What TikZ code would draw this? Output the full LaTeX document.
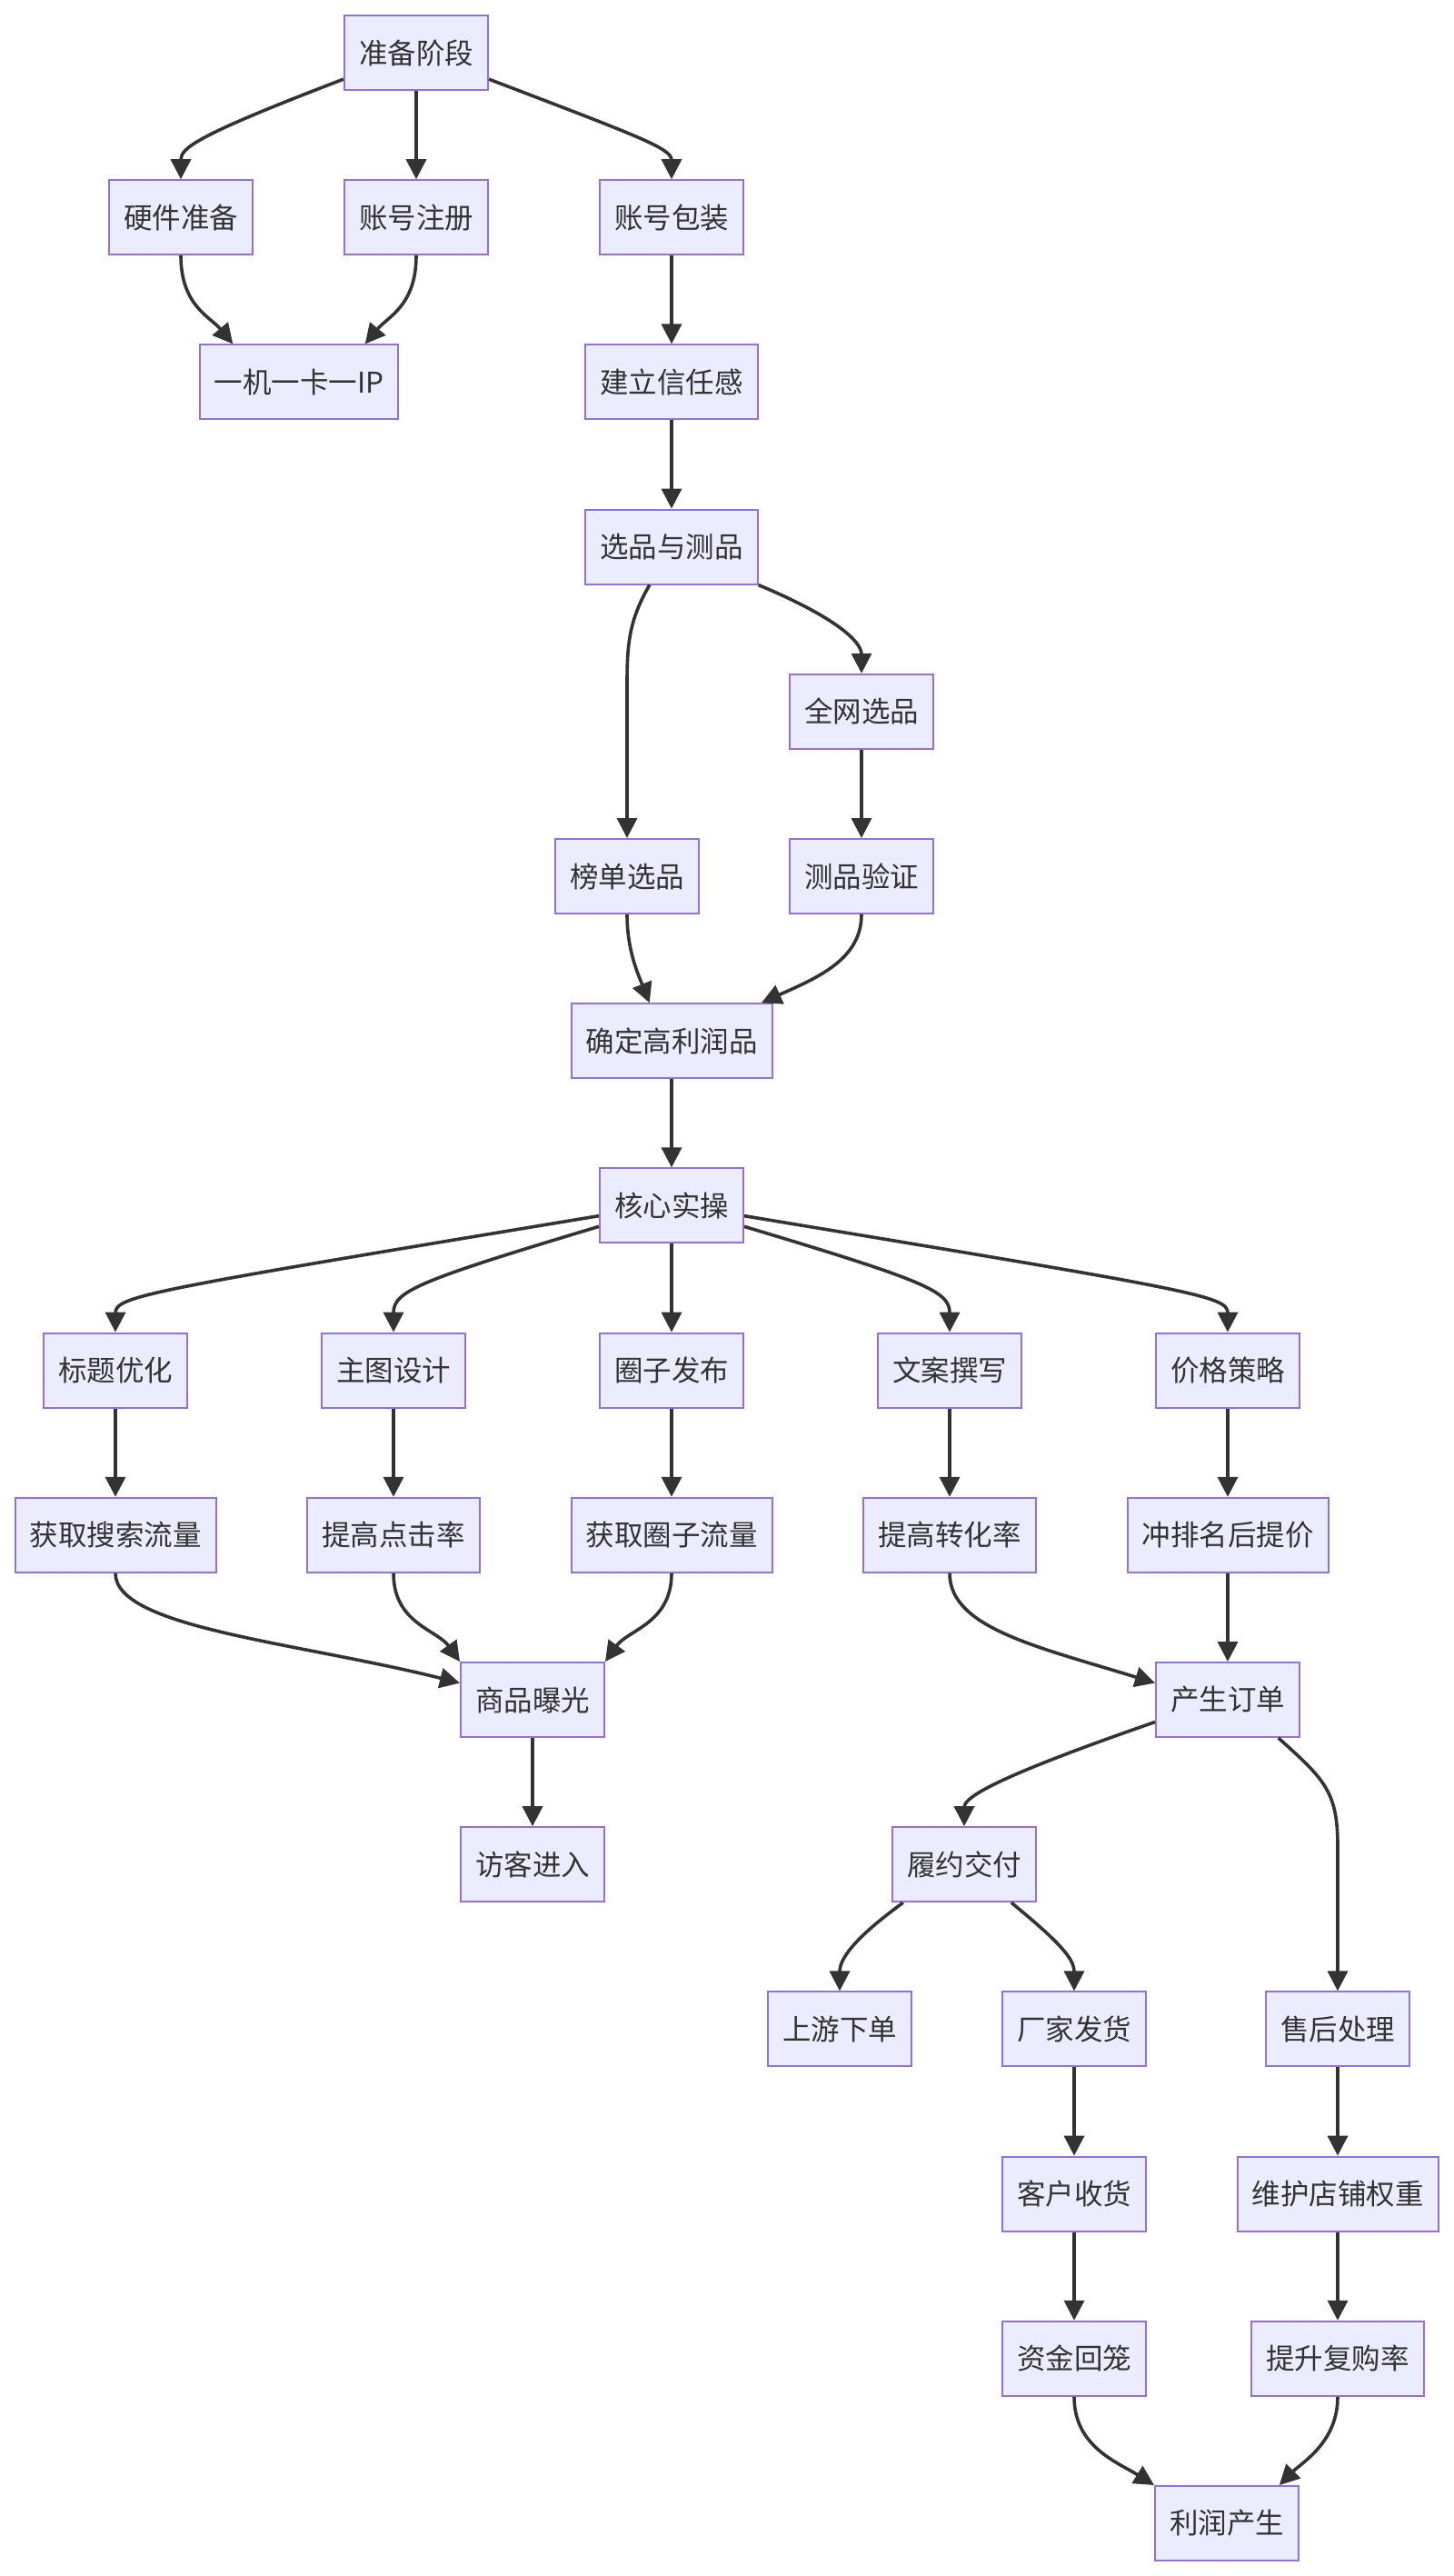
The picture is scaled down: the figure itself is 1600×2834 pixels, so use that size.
\documentclass[tikz,border=0pt]{standalone}
\usepackage{fontspec}
\newfontfamily\cjk{Noto Sans CJK SC}
\usetikzlibrary{arrows.meta,calc}
\definecolor{nodefill}{HTML}{ECECFF}
\definecolor{nodeline}{HTML}{9370DB}
\definecolor{edgecol}{HTML}{333333}
\tikzset{
  box/.style={draw=nodeline, fill=nodefill, line width=2pt, rectangle,
    inner xsep=16pt, inner ysep=0pt, minimum height=82pt, text=edgecol,
    font=\cjk\fontsize{31.5}{36}\selectfont},
  link/.style={draw=edgecol, line width=3.6pt,
    -{Triangle[length=22pt,width=22pt]}},
}
\begin{document}
\begin{tikzpicture}[x=1pt,y=-1pt]
\useasboundingbox[fill=white] (0,0) rectangle (1600,2834);
% nodes
\node[box] (zb)  at (458,58)    {准备阶段};
\node[box] (yj)  at (199,239.2) {硬件准备};
\node[box] (zc)  at (458,239.2) {账号注册};
\node[box] (zbz) at (739,239.2) {账号包装};
\node[box] (ip)  at (329,420.4) {一机一卡一IP};
\node[box] (xr)  at (739,420.4) {建立信任感};
\node[box] (xp)  at (739,601.6) {选品与测品};
\node[box] (qw)  at (948,782.8) {全网选品};
\node[box] (bd)  at (690,964)   {榜单选品};
\node[box] (cy)  at (948,964)   {测品验证};
\node[box] (qd)  at (739,1145.2) {确定高利润品};
\node[box] (hx)  at (739,1326.4) {核心实操};
\node[box] (bt)  at (127,1507.6) {标题优化};
\node[box] (zt)  at (433,1507.6) {主图设计};
\node[box] (qz)  at (739,1507.6) {圈子发布};
\node[box] (wa)  at (1045,1507.6) {文案撰写};
\node[box] (jg)  at (1351,1507.6) {价格策略};
\node[box] (hs)  at (127,1688.8) {获取搜索流量};
\node[box] (dj)  at (433,1688.8) {提高点击率};
\node[box] (hq)  at (739,1688.8) {获取圈子流量};
\node[box] (zh)  at (1045,1688.8) {提高转化率};
\node[box] (pj)  at (1351,1688.8) {冲排名后提价};
\node[box] (sp)  at (586,1870)  {商品曝光};
\node[box] (cs)  at (1351,1870) {产生订单};
\node[box] (fk)  at (586,2051.2) {访客进入};
\node[box] (ly)  at (1061,2051.2) {履约交付};
\node[box] (sy)  at (924,2232.4) {上游下单};
\node[box] (cj)  at (1182,2232.4) {厂家发货};
\node[box] (sh)  at (1472,2232.4) {售后处理};
\node[box] (kh)  at (1182,2413.6) {客户收货};
\node[box] (wh)  at (1472,2413.6) {维护店铺权重};
\node[box] (zj)  at (1182,2594.8) {资金回笼};
\node[box] (tf)  at (1472,2594.8) {提升复购率};
\node[box] (lr)  at (1350,2776)  {利润产生};
% edges
\draw[link] (zb.200) .. controls +(-165,63) and +(0,-34) .. (yj.north);
\draw[link] (zb.south) -- (zc.north);
\draw[link] (zb.340) .. controls +(165,63) and +(0,-34) .. (zbz.north);
\draw[link] (yj.south) .. controls +(0,55) and +(-25,-30) .. (ip.150);
\draw[link] (zc.south) .. controls +(0,55) and +(25,-30) .. (ip.30);
\draw[link] (zbz.south) -- (xr.north);
\draw[link] (xr.south) -- (xp.north);
\draw[link] (xp.240) .. controls +(-22,38) and +(0,-45) .. ($(bd.north)+(0,-170)$) -- (bd.north);
\draw[link] (xp.south east) .. controls +(100,42) and +(0,-30) .. (qw.north);
\draw[link] (qw.south) -- (cy.north);
\draw[link] (bd.south) .. controls +(0,40) and +(-12,-30) .. (qd.120);
\draw[link] (cy.south) .. controls +(0,50) and +(60,-27) .. (qd.23);
\draw[link] (qd.south) -- (hx.north);
\draw[link] (hx.188) .. controls +(-495,82) and +(0,-40) .. (bt.north);
\draw[link] (hx.196) .. controls +(-200,60) and +(0,-45) .. (zt.north);
\draw[link] (hx.south) -- (qz.north);
\draw[link] (hx.344) .. controls +(200,60) and +(0,-45) .. (wa.north);
\draw[link] (hx.352) .. controls +(495,82) and +(0,-40) .. (jg.north);
\draw[link] (bt.south) -- (hs.north);
\draw[link] (zt.south) -- (dj.north);
\draw[link] (qz.south) -- (hq.north);
\draw[link] (wa.south) -- (zh.north);
\draw[link] (jg.south) -- (pj.north);
\draw[link] (hs.south) .. controls +(0,60) and +(-180,-45) .. (sp.167);
\draw[link] (dj.south) .. controls +(0,55) and +(-25,-35) .. (sp.north west);
\draw[link] (hq.south) .. controls +(0,55) and +(25,-35) .. (sp.north east);
\draw[link] (zh.south) .. controls +(0,60) and +(-130,-40) .. (cs.167);
\draw[link] (pj.south) -- (cs.north);
\draw[link] (sp.south) -- (fk.north);
\draw[link] (cs.197) .. controls +(-150,52) and +(0,-35) .. (ly.north);
\draw[link] (cs.323) .. controls +(50,45) and +(0,-60) .. ($(sh.north)+(0,-160)$) -- (sh.north);
\draw[link] (ly.212) .. controls +(-55,40) and +(0,-35) .. (sy.north);
\draw[link] (ly.321) .. controls +(55,45) and +(0,-35) .. (cj.north);
\draw[link] (sh.south) -- (wh.north);
\draw[link] (cj.south) -- (kh.north);
\draw[link] (kh.south) -- (zj.north);
\draw[link] (wh.south) -- (tf.north);
\draw[link] (zj.south) .. controls +(0,55) and +(-40,-25) .. (lr.north west);
\draw[link] (tf.south) .. controls +(0,50) and +(25,-25) .. (lr.36);
\end{tikzpicture}
\end{document}
